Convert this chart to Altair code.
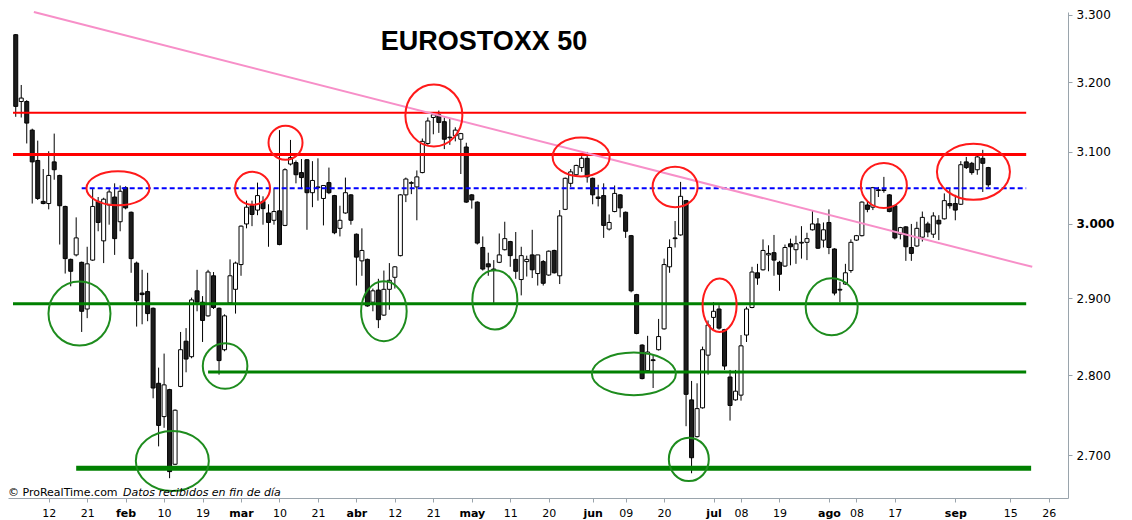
import pandas as pd
import altair as alt

# EUROSTOXX 50, daily candles 4 jan - 9 sep 2016
opens = [
    3270, 3172, 3172, 3131, 3088, 3031, 3028, 3086, 3067, 3024,
    2952, 2958, 2948, 2886, 2951, 3031, 2977, 3026, 3037, 3003,
    3050, 3016, 2947, 2907, 2909, 2887, 2790, 2748, 2782, 2689,
    2786, 2844, 2824, 2910, 2895, 2877, 2930, 2887, 2833, 2894,
    2912, 2945, 3000, 3025, 3019, 3031, 3015, 3005, 3018, 2998,
    3083, 3085, 3071, 3089, 3043, 3050, 3035, 3057, 3039, 2994,
    3015, 3040, 2986, 2950, 2952, 2895, 2911, 2878, 2912, 2928,
    2957, 3040, 3056, 3051, 3071, 3112, 3149, 3153, 3143, 3121,
    3123, 3118, 3107, 3040, 3030, 2968, 2946, 2939, 2948, 2965,
    2976, 2952, 2925, 2949, 2958, 2933, 2949, 2931, 2964, 2930,
    3020, 3056, 3068, 3078, 3091, 3063, 3037, 3039, 2993, 3017,
    3040, 3016, 2984, 2905, 2839, 2806, 2820, 2833, 2860, 2942,
    2981, 2985, 3032, 2769, 2723, 2759, 2826, 2875, 2886, 2859,
    2798, 2769, 2775, 2852, 2888, 2934, 2938, 2958, 2961, 2948,
    2943, 2973, 2965, 2974, 2975, 2992, 3000, 2978, 3002, 2966,
    2912, 2919, 2937, 2978, 2984, 3026, 3023, 3047, 3046, 3040,
    3025, 2986, 2996, 2968, 2970, 2982, 3000, 2986, 3005, 3007,
    3028, 3028, 3027, 3086, 3084, 3075, 3091, 3078,
]
highs = [
    3271, 3196, 3174, 3133, 3116, 3076, 3101, 3126, 3068, 3025,
    2953, 3009, 2949, 2969, 3048, 3037, 3036, 3048, 3056, 3053,
    3052, 3017, 2949, 2938, 2934, 2888, 2810, 2828, 2783, 2757,
    2856, 2861, 2901, 2938, 2903, 2938, 2935, 2888, 2879, 2952,
    2949, 2998, 3032, 3032, 3057, 3038, 3027, 3049, 3131, 3077,
    3117, 3088, 3090, 3090, 3087, 3091, 3053, 3078, 3040, 3025,
    3064, 3041, 2987, 2994, 2953, 2913, 2926, 2937, 2947, 2943,
    3041, 3064, 3059, 3074, 3119, 3149, 3156, 3159, 3149, 3147,
    3135, 3127, 3113, 3041, 3031, 2983, 2961, 2951, 2987, 3003,
    2977, 2989, 2969, 2957, 2992, 2958, 2951, 2964, 2965, 3019,
    3064, 3076, 3082, 3094, 3100, 3064, 3054, 3056, 3013, 3053,
    3041, 3017, 2985, 2906, 2840, 2851, 2827, 2873, 2953, 2979,
    3004, 3058, 3033, 2793, 2790, 2837, 2871, 2895, 2891, 2860,
    2807, 2807, 2852, 2889, 2942, 2946, 2979, 2971, 2985, 2950,
    2972, 2980, 2984, 2997, 2988, 3018, 3008, 3002, 3020, 2967,
    2922, 2946, 2979, 2985, 3031, 3031, 3051, 3051, 3065, 3041,
    3026, 2996, 2997, 3000, 3003, 3017, 3003, 3016, 3012, 3042,
    3048, 3040, 3087, 3093, 3086, 3097, 3103, 3079,
]
lows = [
    3150, 3149, 3112, 3028, 3033, 3027, 3020, 3061, 2972, 2933,
    2916, 2956, 2856, 2874, 2950, 2990, 2947, 2999, 2958, 2990,
    3020, 2934, 2863, 2866, 2870, 2771, 2711, 2734, 2672, 2688,
    2785, 2804, 2822, 2883, 2843, 2876, 2886, 2801, 2831, 2893,
    2880, 2930, 2994, 2997, 3012, 2999, 2969, 2999, 2971, 2997,
    3081, 3056, 3048, 2992, 3023, 3032, 2998, 3041, 2986, 2983,
    3014, 2999, 2917, 2930, 2889, 2883, 2861, 2877, 2885, 2913,
    2956, 3030, 3041, 3005, 3070, 3110, 3125, 3127, 3104, 3110,
    3115, 3069, 3029, 3021, 2972, 2937, 2930, 2894, 2947, 2964,
    2942, 2926, 2904, 2929, 2927, 2917, 2917, 2930, 2933, 2919,
    3019, 3051, 3065, 3072, 3057, 3027, 3024, 2981, 2991, 3016,
    3009, 2981, 2908, 2853, 2795, 2804, 2784, 2832, 2859, 2934,
    2968, 2984, 2736, 2678, 2722, 2758, 2801, 2860, 2859, 2807,
    2743, 2768, 2768, 2843, 2887, 2918, 2937, 2936, 2930, 2910,
    2942, 2944, 2946, 2953, 2951, 2991, 2966, 2968, 2959, 2904,
    2895, 2918, 2934, 2977, 2983, 3016, 3019, 3037, 3043, 3016,
    2979, 2979, 2950, 2950, 2969, 2976, 2982, 2981, 2978, 3006,
    3021, 3005, 3026, 3076, 3068, 3068, 3044, 3051,
]
closes = [
    3165, 3177, 3141, 3086, 3035, 3028, 3067, 3075, 3025, 2953,
    2936, 2981, 2883, 2946, 3024, 3002, 3034, 3044, 2980, 3045,
    3022, 2953, 2897, 2905, 2880, 2784, 2737, 2788, 2680, 2756,
    2833, 2821, 2898, 2895, 2871, 2935, 2888, 2819, 2877, 2930,
    2947, 2997, 3023, 3013, 3039, 3021, 3002, 3017, 2972, 3075,
    3092, 3068, 3064, 3043, 3060, 3051, 3053, 3043, 2988, 3005,
    3043, 3005, 2955, 2964, 2890, 2910, 2872, 2912, 2924, 2942,
    3040, 3062, 3057, 3065, 3115, 3144, 3153, 3142, 3118, 3120,
    3131, 3126, 3030, 3033, 2974, 2939, 2942, 2937, 2958, 2980,
    2957, 2936, 2957, 2952, 2938, 2958, 2920, 2963, 2934, 3011,
    3063, 3072, 3081, 3091, 3065, 3040, 3035, 2998, 3002, 3042,
    3022, 2990, 2910, 2854, 2796, 2830, 2819, 2850, 2945, 2968,
    2980, 3038, 2776, 2697, 2758, 2833, 2865, 2883, 2861, 2812,
    2762, 2780, 2838, 2886, 2935, 2927, 2964, 2960, 2951, 2932,
    2968, 2969, 2973, 2975, 2980, 3000, 2967, 2992, 2968, 2907,
    2911, 2934, 2975, 2984, 3030, 3020, 3050, 3046, 3047, 3017,
    2981, 2995, 2969, 2960, 2994, 3009, 2989, 3011, 3000, 3032,
    3025, 3019, 3082, 3078, 3071, 3093, 3084, 3054,
]

# x axis: trading-day number and the label drawn under it
tick_days = [6, 13, 20, 27, 34, 41, 48, 55, 62, 69, 76, 83, 90, 97,
             105, 111, 118, 127, 132, 139, 148, 153, 160, 171, 181, 188]
tick_text = ["12", "21", "feb", "10", "19", "mar", "10", "21", "abr", "12", "21", "may", "11", "20",
             "jun", "09", "20", "jul", "08", "19", "ago", "08", "17", "sep", "15", "26"]
month_days = [20, 41, 62, 83, 105, 127, 148, 171]
price_ticks = [2700, 2800, 2900, 3000, 3100, 3200, 3300]

# support / resistance levels drawn on the chart
level_price = [3156, 3096.5, 2892.8, 2804.4, 2684]
level_from = [-0.5, -0.5, -0.5, 35.0, 11.0]
level_to = [183.9, 183.9, 183.9, 183.9, 184.8]
level_color = ["#ff0000", "#ff0000", "#008000", "#008000", "#008000"]
level_width = [2, 3, 3, 3, 5]
blue_price, blue_from, blue_to = 3049, 12.0, 183.9
trend_day = [3.3, 185.0]
trend_price = [3304, 2942]

# circled highs (red) and lows (green): centre day, centre price, radii in px
circ_day = [18.6, 43.1, 49.1, 76.1, 102.9, 120.0, 128.1, 158.0, 174.3,
            11.6, 28.5, 38.1, 67.0, 87.2, 112.5, 122.5, 148.5]
circ_price = [3049, 3049, 3113, 3152, 3093, 3051, 2891, 3053, 3072,
              2880, 2693, 2812, 2883, 2898, 2802, 2695, 2889]
circ_rx = [31.5, 17.5, 17, 28.5, 28.5, 22.5, 17, 23, 36.5,
           31, 36.5, 22.3, 22.8, 22.5, 42, 20, 26]
circ_ry = [17, 16.5, 17, 31, 19.5, 20.3, 26.7, 22.5, 28,
           32, 30, 22.7, 30, 29.7, 21.3, 21.7, 28.5]
circ_color = ["#ff1a1a"] * 9 + ["#1e8c1e"] * 8

assert len(opens) == len(highs) == len(lows) == len(closes)

df = pd.DataFrame({"day": list(range(len(opens))), "open": opens, "high": highs,
                   "low": lows, "close": closes})
df["dir"] = ["up" if c >= o else "down" for o, c in zip(opens, closes)]


def ellipse_path(rx, ry):
    # unit-box ellipse made of 4 bezier quarters, vega scales it by sqrt(size)/2
    r = max(rx, ry)
    a, b = rx / r, ry / r
    k = 0.5523
    return (f"M {a} 0 C {a} {k*b} {k*a} {b} 0 {b} C {-k*a} {b} {-a} {k*b} {-a} 0 "
            f"C {-a} {-k*b} {-k*a} {-b} 0 {-b} C {k*a} {-b} {a} {-k*b} {a} 0 Z")


circles = pd.DataFrame({
    "day": circ_day, "price": circ_price, "col": circ_color,
    "shape": [ellipse_path(rx, ry) for rx, ry in zip(circ_rx, circ_ry)],
    "size": [(2 * max(rx, ry)) ** 2 for rx, ry in zip(circ_rx, circ_ry)],
})
levels = pd.DataFrame({"p": level_price, "x0": level_from, "x1": level_to,
                       "col": level_color, "w": level_width})

xscale = alt.Scale(domain=[-0.5, 190.6], nice=False, zero=False)
yscale = alt.Scale(type="log", domain=[2648, 3304], nice=False)

label_expr = "".join(f"datum.value == {d} ? '{t}' : " for d, t in zip(tick_days, tick_text)) + "''"
month_test = " || ".join(f"datum.value == {d}" for d in month_days)
xaxis = alt.Axis(
    values=tick_days, labelExpr=label_expr, title=None, grid=False,
    tickSize=4, tickColor="#9aa4ac", domainColor="#9aa4ac", labelPadding=5,
    labelFont="DejaVu Sans", labelFontSize=11, labelColor="black", labelAngle=0,
    labelOverlap=False, labelFlush=False,
    labelFontWeight={"condition": {"test": month_test, "value": "bold"}, "value": "normal"},
)
yaxis = alt.Axis(
    orient="right", values=price_ticks, title=None, grid=False,
    labelExpr="replace(format(datum.value, ',.0f'), ',', '.')",
    tickSize=4, tickColor="#9aa4ac", domainColor="#9aa4ac", labelPadding=4,
    labelFont="DejaVu Sans", labelFontSize=12, labelColor="black",
    labelFontWeight={"condition": {"test": "datum.value == 3000", "value": "bold"},
                     "value": "normal"},
)


def xenc(field):
    return alt.X(field, scale=xscale, axis=xaxis)


def yenc(field):
    return alt.Y(field, scale=yscale, axis=yaxis)


base = alt.Chart(df)
wicks = base.mark_rule(color="black", strokeWidth=1).encode(
    x=xenc("day:Q"), y=yenc("low:Q"), y2="high:Q",
)
bodies = base.mark_bar(size=4, stroke="black", strokeWidth=1, orient="vertical").encode(
    x=xenc("day:Q"), y=yenc("open:Q"), y2="close:Q",
    color=alt.Color("dir:N", scale=alt.Scale(domain=["up", "down"], range=["white", "#1c1c1c"]),
                    legend=None),
)

lines = alt.Chart(levels).mark_rule().encode(
    x=xenc("x0:Q"), x2="x1:Q", y=yenc("p:Q"),
    color=alt.Color("col:N", scale=None),
    strokeWidth=alt.StrokeWidth("w:Q", scale=None),
)
blue = alt.Chart(pd.DataFrame({"p": [blue_price], "x0": [blue_from], "x1": [blue_to]})).mark_rule(
    color="#0000ff", strokeWidth=2, strokeDash=[5, 3]
).encode(x=xenc("x0:Q"), x2="x1:Q", y=yenc("p:Q"))
trend = alt.Chart(pd.DataFrame({"d0": [trend_day[0]], "d1": [trend_day[1]],
                                "p0": [trend_price[0]], "p1": [trend_price[1]]})).mark_rule(
    color="#f78fc8", strokeWidth=2
).encode(x=xenc("d0:Q"), x2="d1:Q", y=yenc("p0:Q"), y2="p1:Q")
rings = alt.Chart(circles).mark_point(filled=False, strokeWidth=2, opacity=1).encode(
    x=xenc("day:Q"), y=yenc("price:Q"),
    shape=alt.Shape("shape:N", scale=None),
    size=alt.Size("size:Q", scale=None),
    color=alt.Color("col:N", scale=None),
)

title = alt.Chart(pd.DataFrame({"t": ["EUROSTOXX 50"]})).mark_text(
    font="Liberation Sans", fontSize=27, fontWeight="bold", color="black",
    align="center", baseline="middle",
).encode(text="t:N", x=alt.value(476), y=alt.value(30))
credit = alt.Chart(pd.DataFrame({"t": ["© ProRealTime.com"]})).mark_text(
    font="DejaVu Sans", fontSize=11, color="black", align="left", baseline="middle",
).encode(text="t:N", x=alt.value(0), y=alt.value(481))
credit2 = alt.Chart(pd.DataFrame({"t": ["Datos recibidos en fin de día"]})).mark_text(
    font="DejaVu Sans", fontSize=11, fontStyle="italic", color="black",
    align="left", baseline="middle",
).encode(text="t:N", x=alt.value(115), y=alt.value(481))

chart = alt.layer(wicks, bodies, lines, blue, trend, rings, title, credit, credit2).properties(
    width=1060, height=486,
    autosize=alt.AutoSizeParams(type="none"),
    padding={"left": 0, "top": 4, "right": 56, "bottom": 22},
    background="white",
).configure_view(stroke=None)

chart.save("out.html", embed_options={"renderer": "svg", "actions": False})
